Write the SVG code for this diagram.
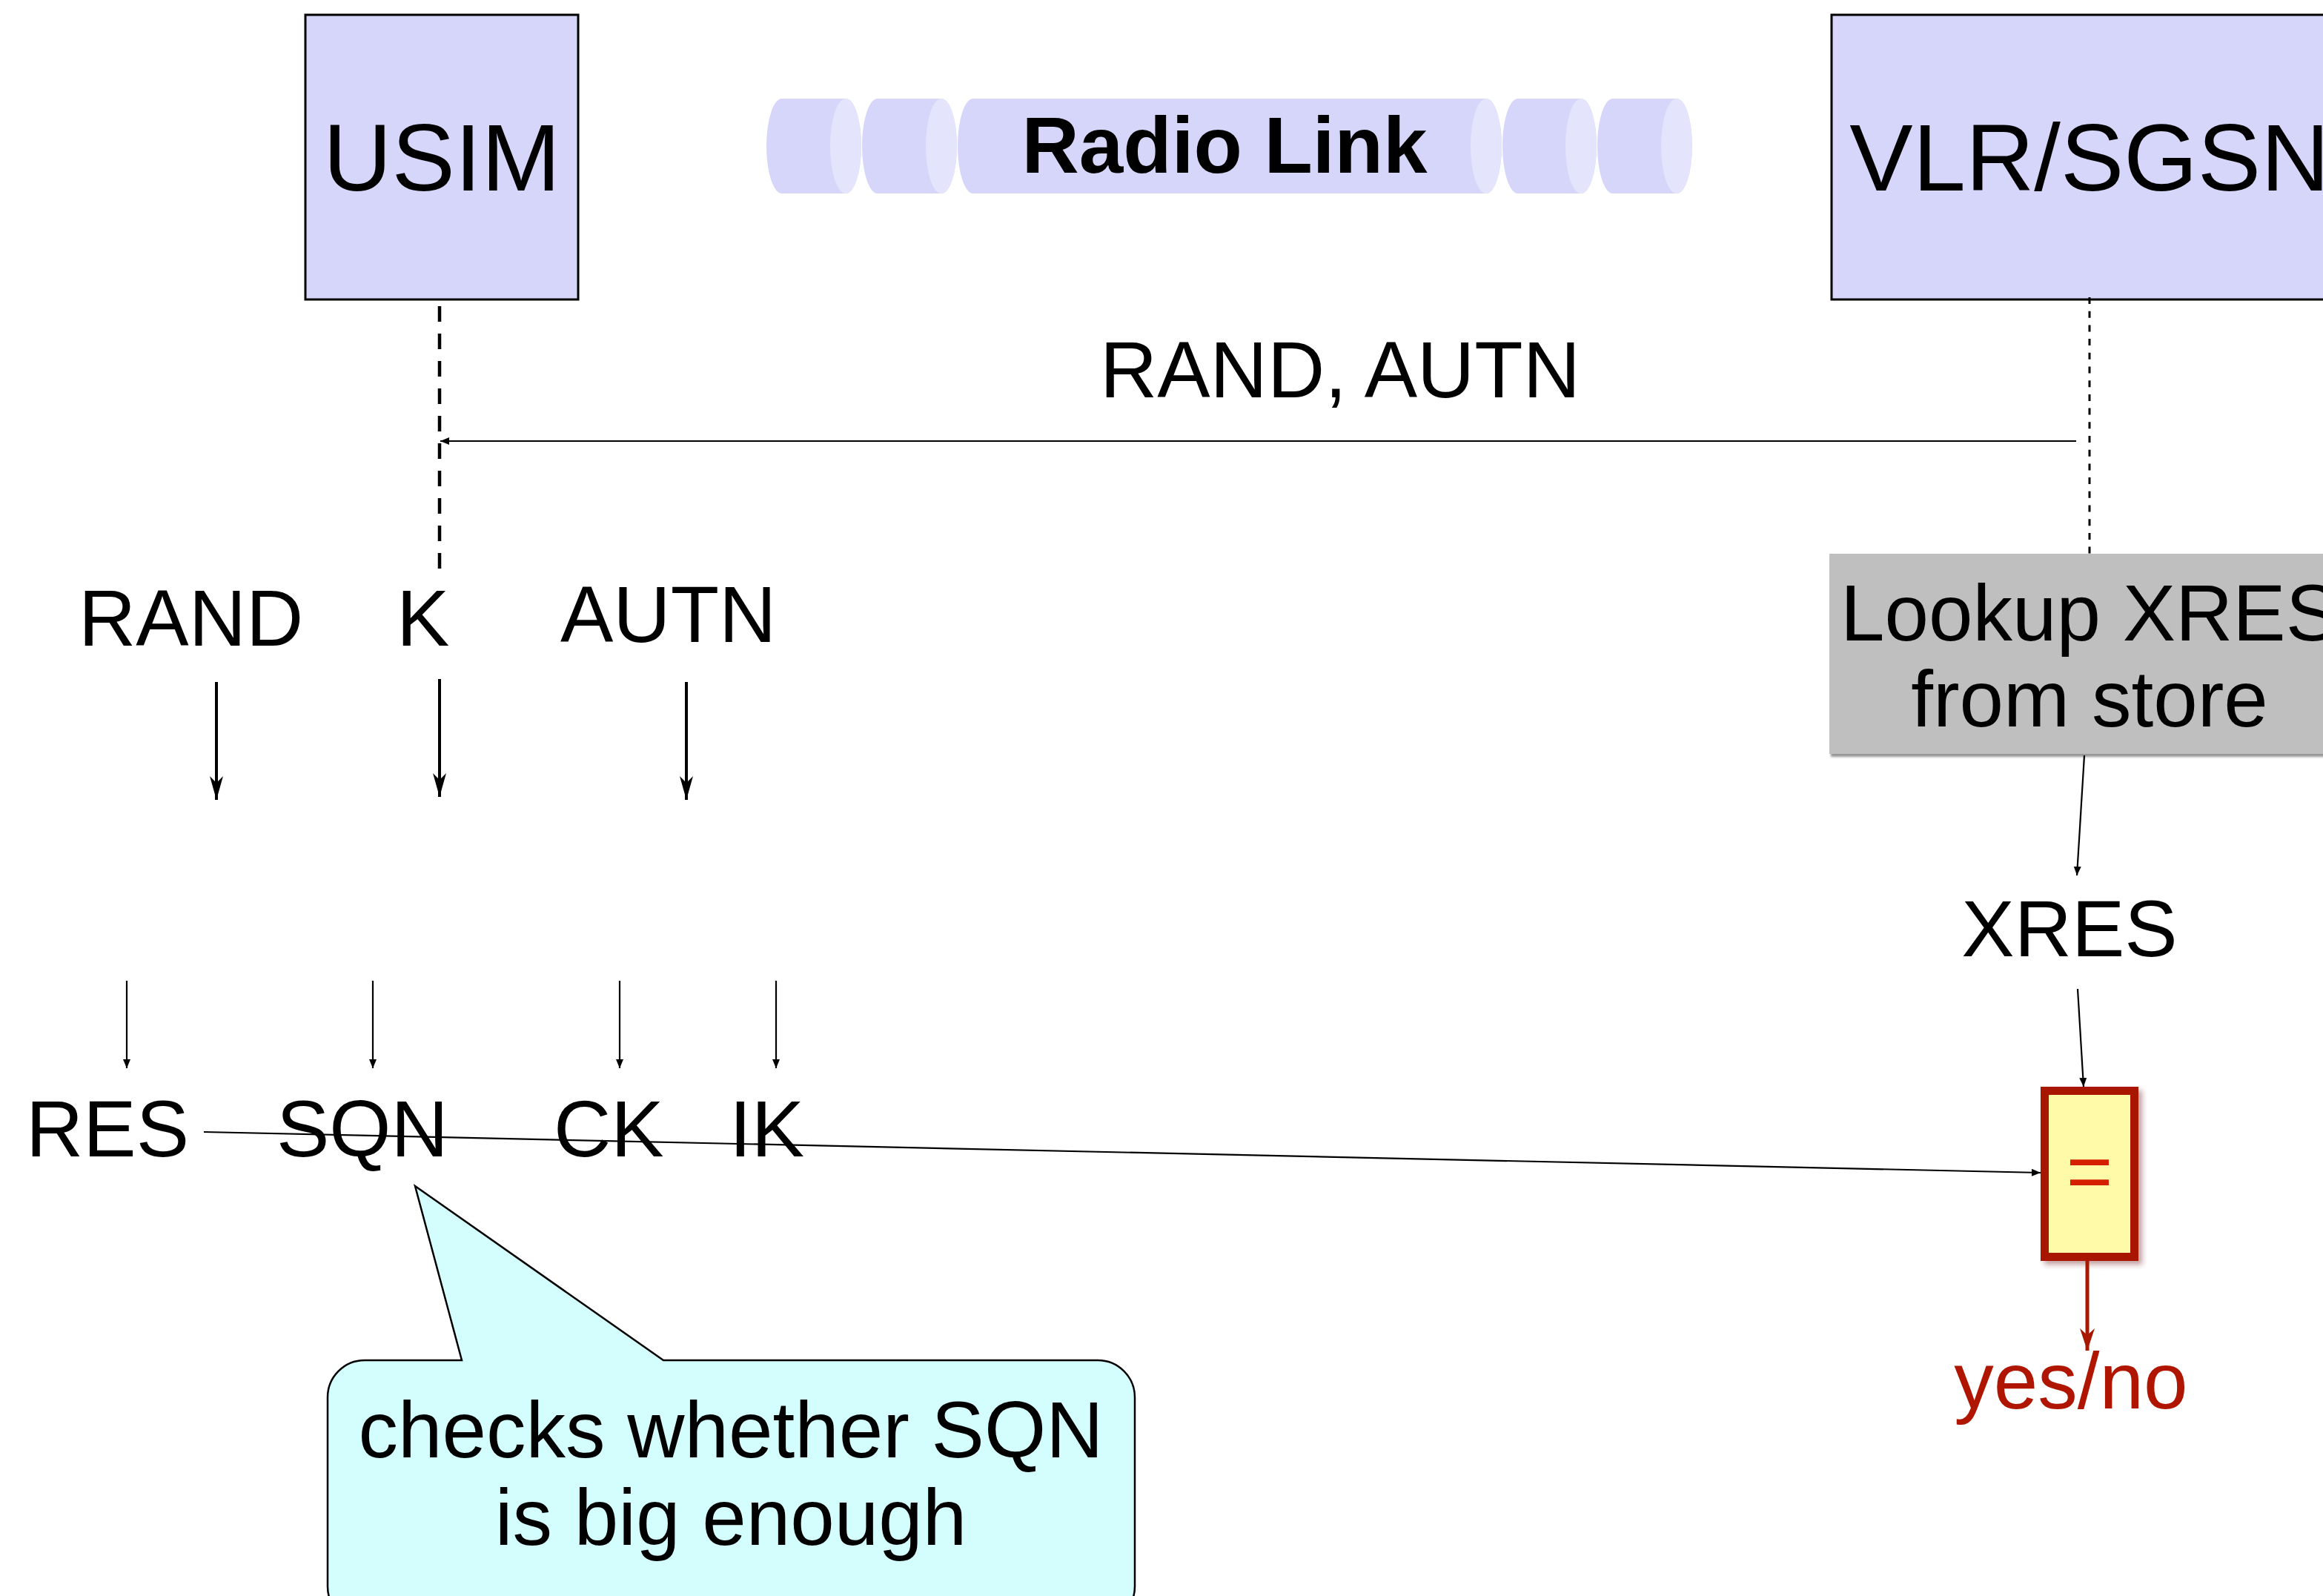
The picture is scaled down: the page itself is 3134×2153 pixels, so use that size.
<svg xmlns="http://www.w3.org/2000/svg" width="3134" height="2153" viewBox="0 0 3134 2153">
  <style>
    text { font-family: "Liberation Sans", Arial, Helvetica, sans-serif; fill: #000; }
    .big { font-size: 128px; }
    .lbl { font-size: 107px; }
    .bold { font-weight: bold; }
    .red { fill: #b01500; }
    .actor { fill: #d6d6fb; stroke: #000; stroke-width: 3; }
    .cyl { fill: #d6d6fb; }
    .cylface { fill: #e4e4fd; }
    .thin { fill: none; stroke: #000; stroke-width: 2.2; }
    .thick { fill: none; stroke: #000; stroke-width: 4; }
  </style>
  <defs>
    <marker id="m-small" viewBox="0 0 12 10" refX="12" refY="5" markerWidth="12" markerHeight="10" markerUnits="userSpaceOnUse" orient="auto">
      <path d="M0,0 L12,5 L0,10 z" fill="#000"/>
    </marker>
    <marker id="m-big" viewBox="0 0 32 18" refX="32" refY="9" markerWidth="32" markerHeight="18" markerUnits="userSpaceOnUse" orient="auto">
      <path d="M0,0 L32,9 L0,18 L9,9 z" fill="#000"/>
    </marker>
    <marker id="m-red" viewBox="0 0 30 20" refX="30" refY="10" markerWidth="30" markerHeight="20" markerUnits="userSpaceOnUse" orient="auto">
      <path d="M0,0 L30,10 L0,20 L9,10 z" fill="#a81800"/>
    </marker>
    <filter id="sh-gray" x="-10%" y="-10%" width="130%" height="130%">
      <feDropShadow dx="2" dy="4" stdDeviation="1.5" flood-color="#7a7a7a" flood-opacity="0.8"/>
    </filter>
    <filter id="sh-red" x="-20%" y="-20%" width="150%" height="150%">
      <feDropShadow dx="5" dy="5" stdDeviation="3.5" flood-color="#7a2a2a" flood-opacity="0.45"/>
    </filter>
  </defs>

  <rect width="3134" height="2153" fill="#fff"/>

  <!-- USIM actor -->
  <g id="usim">
    <rect class="actor" x="412" y="20" width="368" height="384"/>
    <text class="big" x="596" y="257" text-anchor="middle">USIM</text>
  </g>

  <!-- VLR/SGSN actor -->
  <g id="vlr">
    <rect class="actor" x="2471" y="20" width="700" height="384"/>
    <text class="big" x="2819" y="257" text-anchor="middle">VLR/SGSN</text>
  </g>

  <!-- radio link drawn as a chain of cylinders -->
  <g id="radio-link">
    <path class="cyl" d="M1055,133 L1141,133 A21,64 0 0 1 1141,261 L1055,261 A21,64 0 0 1 1055,133 Z"/>
    <ellipse class="cylface" cx="1141" cy="197" rx="21" ry="64"/>
    <path class="cyl" d="M1184,133 L1270,133 A21,64 0 0 1 1270,261 L1184,261 A21,64 0 0 1 1184,133 Z"/>
    <ellipse class="cylface" cx="1270" cy="197" rx="21" ry="64"/>
    <path class="cyl" d="M1313,133 L2005,133 A21,64 0 0 1 2005,261 L1313,261 A21,64 0 0 1 1313,133 Z"/>
    <ellipse class="cylface" cx="2005" cy="197" rx="21" ry="64"/>
    <path class="cyl" d="M2048,133 L2133,133 A21,64 0 0 1 2133,261 L2048,261 A21,64 0 0 1 2048,133 Z"/>
    <ellipse class="cylface" cx="2133" cy="197" rx="21" ry="64"/>
    <path class="cyl" d="M2176,133 L2262,133 A21,64 0 0 1 2262,261 L2176,261 A21,64 0 0 1 2176,133 Z"/>
    <ellipse class="cylface" cx="2262" cy="197" rx="21" ry="64"/>
    <text class="lbl bold" x="1652" y="233" text-anchor="middle">Radio Link</text>
  </g>

  <!-- lookup step on the network side -->
  <g id="lookup">
    <rect x="2468" y="747" width="700" height="270" fill="#bfbfbf" filter="url(#sh-gray)"/>
    <text class="lbl" x="2819" y="864" text-anchor="middle">Lookup XRES</text>
    <text class="lbl" x="2819" y="980" text-anchor="middle">from store</text>
  </g>

  <!-- comparison block -->
  <g id="compare">
    <rect x="2758.5" y="1471.5" width="121" height="224" fill="#fffaa8" stroke="#a81800" stroke-width="11" filter="url(#sh-red)"/>
    <text class="lbl" x="2819" y="1617" text-anchor="middle" fill="#d42000" style="fill:#d42000">=</text>
  </g>

  <!-- values -->
  <g id="msg-label"><text class="lbl" x="1808" y="536" text-anchor="middle">RAND, AUTN</text></g>
  <g id="in-rand"><text class="lbl" x="106" y="871">RAND</text></g>
  <g id="in-k"><text class="lbl" x="535" y="871">K</text></g>
  <g id="in-autn"><text class="lbl" x="756" y="866">AUTN</text></g>
  <g id="out-res"><text class="lbl" x="35" y="1560">RES</text></g>
  <g id="out-sqn"><text class="lbl" x="373" y="1560">SQN</text></g>
  <g id="out-ck"><text class="lbl" x="747" y="1560">CK</text></g>
  <g id="out-ik"><text class="lbl" x="984" y="1560">IK</text></g>
  <g id="xres"><text class="lbl" x="2792" y="1290" text-anchor="middle">XRES</text></g>
  <g id="result"><text class="lbl red" x="2794" y="1900" text-anchor="middle">yes/no</text></g>

  <!-- callout about the sequence number -->
  <g id="note">
    <path d="M492,1835 L623,1835 L560,1600 L895,1835 L1481,1835 A50,50 0 0 1 1531,1885 L1531,2140 A50,50 0 0 1 1481,2190 L492,2190 A50,50 0 0 1 442,2140 L442,1885 A50,50 0 0 1 492,1835 Z" fill="#d4fefe" stroke="#000" stroke-width="2.5"/>
    <text class="lbl" x="986" y="1966" text-anchor="middle">checks whether SQN</text>
    <text class="lbl" x="986" y="2084" text-anchor="middle">is big enough</text>
  </g>

  <!-- connectors -->
  <g id="connectors">
    <!-- lifelines -->
    <line x1="593" y1="413" x2="593" y2="770" stroke="#000" stroke-width="4.5" stroke-dasharray="21 16"/>
    <line x1="2819" y1="401" x2="2819" y2="747" stroke="#000" stroke-width="3" stroke-dasharray="9 9.7"/>
    <!-- challenge message -->
    <line class="thin" x1="2801" y1="595" x2="594" y2="595" stroke-width="2.7" marker-end="url(#m-small)"/>
    <!-- inputs into the USIM algorithms -->
    <line class="thick" x1="292" y1="920" x2="292" y2="1079" marker-end="url(#m-big)"/>
    <line class="thick" x1="593" y1="916" x2="593" y2="1075" marker-end="url(#m-big)"/>
    <line class="thick" x1="926" y1="920" x2="926" y2="1079" marker-end="url(#m-big)"/>
    <!-- outputs -->
    <line class="thin" x1="171" y1="1323" x2="171" y2="1441" marker-end="url(#m-small)"/>
    <line class="thin" x1="503" y1="1323" x2="503" y2="1441" marker-end="url(#m-small)"/>
    <line class="thin" x1="836" y1="1323" x2="836" y2="1441" marker-end="url(#m-small)"/>
    <line class="thin" x1="1047" y1="1323" x2="1047" y2="1441" marker-end="url(#m-small)"/>
    <!-- RES to comparison -->
    <line class="thin" x1="275" y1="1527" x2="2753" y2="1582" stroke-width="2.5" marker-end="url(#m-small)"/>
    <!-- network side -->
    <line class="thin" x1="2812" y1="1019" x2="2802" y2="1181" marker-end="url(#m-small)"/>
    <line class="thin" x1="2803" y1="1334" x2="2811" y2="1466" marker-end="url(#m-small)"/>
    <line x1="2816" y1="1701" x2="2816" y2="1822" stroke="#a81800" stroke-width="5" marker-end="url(#m-red)"/>
  </g>
</svg>
